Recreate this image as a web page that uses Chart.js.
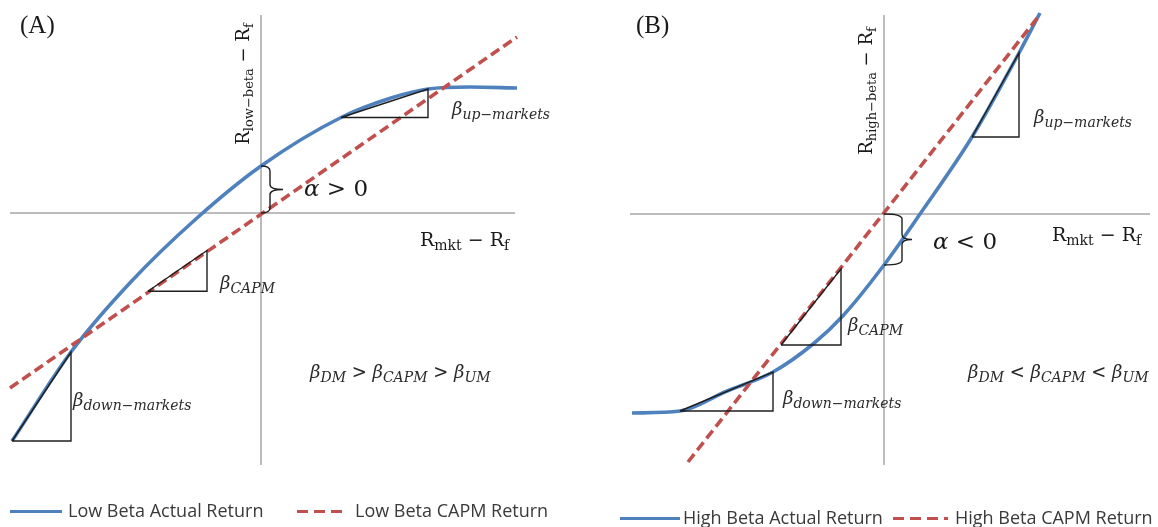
<!DOCTYPE html>
<html>
<head>
<meta charset="utf-8">
<script src="https://cdn.jsdelivr.net/npm/chart.js@4.4.1/dist/chart.umd.min.js"></script>
<style>
  html, body { margin: 0; padding: 0; background: #fff; }
  #wrap { position: relative; width: 1158px; height: 527px; overflow: hidden; }
  #wrap canvas { position: absolute; top: 0; }
  .lg { position: absolute; font-family: "Open Sans", Lato, sans-serif; font-size: 18px; color: #3a3a3a; white-space: nowrap; line-height: 22px; }
  .sw { position: absolute; height: 3px; }
</style>
</head>
<body>
<div id="wrap">
  <canvas id="cA" width="579" height="527" style="left:0"></canvas>
  <canvas id="cB" width="579" height="527" style="left:579px"></canvas>
</div>
<script>
// ---- Panel A: low-beta portfolio (excess returns vs. market excess return) ----
const lowMkt       = [-9.96, -7.6, -5.2, -2.56, 0, 3.2, 5.2, 6.68, 8.36, 10.24];
const lowActual    = [-9.12, -5.56, -2.75, -0.2, 1.88, 3.82, 4.6, 4.96, 5.04, 5.0];
const lowCapmMkt   = [-10.04, 10.24];
const lowCapm      = [-7.0, 7.04];
const lowDownTriX  = [-9.96, -7.6, -7.6, -9.96];
const lowDownTriY  = [-9.12, -5.56, -9.12, -9.12];
const lowCapmTriX  = [-4.52, -2.16, -2.16, -4.52];
const lowCapmTriY  = [-3.13, -1.5, -3.13, -3.13];
const lowUpTriX    = [3.2, 6.68, 6.68, 3.2];
const lowUpTriY    = [3.82, 4.96, 3.82, 3.82];
const lowAlpha     = [0, 1.88];          // brace from CAPM intercept to actual intercept
const lowAxisX     = [-10.04, 10.16];
const lowAxisY     = [-10.08, 7.92];

// ---- Panel B: high-beta portfolio ----
const highMkt      = [-10.08, -8.16, -6.32, -4.44, -2.8, -1.64, 0, 1.44, 3.52, 5.4, 6.24];
const highActual   = [-7.96, -7.88, -7.1, -6.32, -5.17, -4.07, -2.04, 0, 3.08, 6.44, 8.04];
const highCapmMkt  = [-7.84, 6.16];
const highCapm     = [-9.92, 7.88];
const highDownTriX = [-8.16, -4.44, -4.44, -8.16];
const highDownTriY = [-7.88, -6.32, -7.88, -7.88];
const highCapmTriX = [-4.12, -1.72, -1.72, -4.12];
const highCapmTriY = [-5.24, -2.19, -5.24, -5.24];
const highUpTriX   = [3.52, 5.4, 5.4, 3.52];
const highUpTriY   = [3.08, 6.44, 3.08, 3.08];
const highAlpha    = [0, -2.04];
const highAxisX    = [-10.16, 10.64];
const highAxisY    = [-10.04, 7.96];

const legendA = ['Low Beta Actual Return', 'Low Beta CAPM Return'];
const legendB = ['High Beta Actual Return', 'High Beta CAPM Return'];

const BLUE = '#4f81bd', RED = '#c0504d', GREY = '#a6a6a6', INK = '#1e1e1e';
const TIMES = '"Liberation Serif", serif';
const MATH = '"DejaVu Serif", "Liberation Serif", serif';

const pts = (xs, ys) => xs.map((x, i) => ({ x, y: ys[i] }));

// draws a run of text pieces: [text, size, italic, dy, family]
function rich(ctx, x, y, parts, measureOnly) {
  let cx = x;
  for (const [t, size, it, dy, fam] of parts) {
    ctx.font = (it ? 'italic ' : '') + size + 'px ' + (fam || MATH);
    if (!measureOnly) ctx.fillText(t, cx, y + (dy || 0));
    cx += ctx.measureText(t).width;
  }
  return cx - x;
}

function brace(ctx, x, yTop, yBot, stem, tip) {
  const ym = (yTop + yBot) / 2, r = 5;
  const sx = x + stem;
  ctx.beginPath();
  ctx.moveTo(x, yTop);
  ctx.quadraticCurveTo(sx, yTop, sx, yTop + r);
  ctx.lineTo(sx, ym - r);
  ctx.quadraticCurveTo(sx, ym, x + tip, ym);
  ctx.quadraticCurveTo(sx, ym, sx, ym + r);
  ctx.lineTo(sx, yBot - r);
  ctx.quadraticCurveTo(sx, yBot, x, yBot);
  ctx.lineWidth = 1.4;
  ctx.strokeStyle = INK;
  ctx.stroke();
}

const notesPlugin = {
  id: 'notes',
  afterDatasetsDraw(chart, args, opts) {
    const { ctx, scales: { x: sx, y: sy } } = chart;
    ctx.save();
    ctx.textBaseline = 'alphabetic';
    // alpha brace along the vertical axis
    const bx = sx.getPixelForValue(0);
    const y1 = sy.getPixelForValue(Math.max(...opts.alpha));
    const y2 = sy.getPixelForValue(Math.min(...opts.alpha));
    brace(ctx, bx, y1, y2, opts.braceStem, opts.braceTip);
    for (const lab of opts.labels) {
      const px = sx.getPixelForValue(lab.x);
      const py = sy.getPixelForValue(lab.y);
      const main = lab.parts[0][1];
      ctx.fillStyle = lab.color || '#1a1a1a';
      if (lab.rotate) {
        ctx.save();
        ctx.translate(px, py);
        ctx.rotate(-Math.PI / 2);
        const w = rich(ctx, 0, 0, lab.parts, true);
        rich(ctx, -w / 2, main * 0.33, lab.parts);
        ctx.restore();
      } else {
        rich(ctx, px, py + main * 0.33, lab.parts);
      }
    }
    ctx.restore();
  }
};

function lineSet(data, color, width, order, extra) {
  return Object.assign({
    data, borderColor: color, borderWidth: width, pointRadius: 0,
    fill: false, showLine: true, order, clip: false, tension: 0
  }, extra || {});
}

function makeChart(id, d) {
  return new Chart(document.getElementById(id), {
    type: 'scatter',
    data: {
      datasets: [
        lineSet(pts(d.axisX, [0, 0]), GREY, 1.5, 5),
        lineSet(pts([0, 0], d.axisY), GREY, 1.5, 5),
        lineSet(pts(d.mkt, d.actual), BLUE, 3.6, 3, { cubicInterpolationMode: 'monotone' }),
        lineSet(pts(d.capmMkt, d.capm), RED, 3.6, 2, { borderDash: [10, 5] }),
        lineSet(pts(d.t1x, d.t1y), INK, 1.4, 0),
        lineSet(pts(d.t2x, d.t2y), INK, 1.4, 0),
        lineSet(pts(d.t3x, d.t3y), INK, 1.4, 0)
      ]
    },
    options: {
      responsive: false,
      animation: false,
      devicePixelRatio: 1,
      layout: { padding: 0 },
      scales: {
        x: { type: 'linear', display: false, min: d.xr[0], max: d.xr[1] },
        y: { type: 'linear', display: false, min: d.yr[0], max: d.yr[1] }
      },
      plugins: {
        legend: { display: false },
        tooltip: { enabled: false },
        notes: { alpha: d.alpha, labels: d.labels, braceStem: d.braceStem, braceTip: d.braceTip }
      }
    },
    plugins: [notesPlugin]
  });
}

const beta = (sub, x, y) => ({ x, y, color: '#2a2a2a', parts: [['β', 18, true], [sub, 14, true, 4]] });
const excess = (sub, x, y, rotate, s1, s2) => ({ x, y, rotate, parts: [['R', s1, false], [sub, s2, false, 4], [' − R', s1, false], ['f', s2, false, 4]] });
const order3 = (op, x, y) => ({ x, y, color: '#2a2a2a', parts: [['β', 18, true], ['DM', 14, true, 4], [op, 18, false], ['β', 18, true], ['CAPM', 14, true, 4], [op, 18, false], ['β', 18, true], ['UM', 14, true, 4]] });

makeChart('cA', {
  mkt: lowMkt, actual: lowActual, capmMkt: lowCapmMkt, capm: lowCapm,
  t1x: lowDownTriX, t1y: lowDownTriY, t2x: lowCapmTriX, t2y: lowCapmTriY, t3x: lowUpTriX, t3y: lowUpTriY,
  axisX: lowAxisX, axisY: lowAxisY, alpha: lowAlpha, braceStem: 9, braceTip: 22,
  xr: [-10.44, 12.72], yr: [-12.56, 8.52],
  labels: [
    { x: -9.64, y: 7.52, parts: [['(A)', 25, false, 0, TIMES]] },
    excess('low−beta', -0.72, 5.16, true, 18, 13),
    { x: 1.72, y: 1.0, parts: [['α', 23, true], [' > 0', 23, false]] },
    excess('mkt', 6.36, -1.08, false, 19, 14),
    beta('up−markets', 7.64, 4.16),
    beta('CAPM', -1.64, -2.8),
    beta('down−markets', -7.52, -7.48),
    order3(' > ', 1.96, -6.36)
  ]
});

makeChart('cB', {
  mkt: highMkt, actual: highActual, capmMkt: highCapmMkt, capm: highCapm,
  t1x: highDownTriX, t1y: highDownTriY, t2x: highCapmTriX, t2y: highCapmTriY, t3x: highUpTriX, t3y: highUpTriY,
  axisX: highAxisX, axisY: highAxisY, alpha: highAlpha, braceStem: 18, braceTip: 28,
  xr: [-12.2, 10.96], yr: [-12.52, 8.56],
  labels: [
    { x: -9.92, y: 7.56, parts: [['(B)', 25, false, 0, TIMES]] },
    excess('high−beta', -0.72, 4.92, true, 18, 13),
    { x: 1.96, y: -1.08, parts: [['α', 23, true], [' < 0', 23, false]] },
    excess('mkt', 6.72, -0.84, false, 19, 14),
    beta('up−markets', 6.0, 3.88),
    beta('CAPM', -1.44, -4.44),
    beta('down−markets', -4.04, -7.36),
    order3(' < ', 3.36, -6.32)
  ]
});

// legends under each panel
function legend(items, y) {
  const wrap = document.getElementById('wrap');
  for (const it of items) {
    const sw = document.createElement('div');
    sw.className = 'sw';
    sw.style.left = it.sx + 'px'; sw.style.top = (y - 1) + 'px'; sw.style.width = it.sw + 'px';
    sw.style.background = it.dash
      ? 'repeating-linear-gradient(90deg,' + RED + ' 0 11px, transparent 11px 17px)'
      : BLUE;
    wrap.appendChild(sw);
    const tx = document.createElement('div');
    tx.className = 'lg';
    tx.style.left = it.tx + 'px'; tx.style.top = (y - 12) + 'px';
    tx.textContent = it.label;
    wrap.appendChild(tx);
  }
}
legend([
  { label: legendA[0], sx: 10, sw: 52, tx: 68, dash: false },
  { label: legendA[1], sx: 297, sw: 50, tx: 355, dash: true }
], 511);
legend([
  { label: legendB[0], sx: 620, sw: 60, tx: 683, dash: false },
  { label: legendB[1], sx: 893, sw: 55, tx: 955, dash: true }
], 518);
</script>
</body>
</html>
